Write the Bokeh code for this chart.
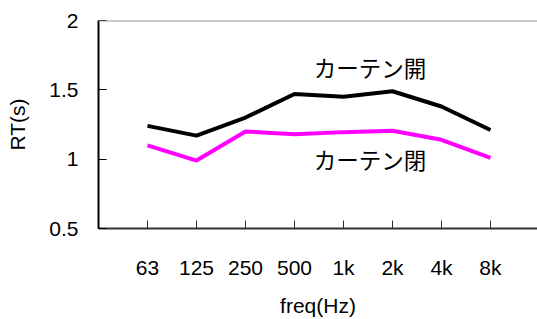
from bokeh.plotting import figure
from bokeh.models import Range1d, FixedTicker, Span, Label
from bokeh.embed import file_html
from bokeh.resources import INLINE

freq_labels = ["63", "125", "250", "500", "1k", "2k", "4k", "8k"]
rt_open = [1.24, 1.17, 1.30, 1.47, 1.45, 1.49, 1.38, 1.21]
rt_closed = [1.10, 0.99, 1.20, 1.18, 1.195, 1.205, 1.14, 1.01]
label_open = "カーテン開"
label_closed = "カーテン閉"

xs = list(range(1, len(freq_labels) + 1))
FONT = "Liberation Sans"
FS = "21px"

p = figure(width=537, height=319, output_backend="svg", toolbar_location=None,
           x_range=Range1d(0, 8.96), y_range=Range1d(0.5, 2.0),
           min_border_left=98, min_border_right=0, min_border_top=20, min_border_bottom=90)
p.outline_line_color = None
p.xgrid.grid_line_color = None
p.ygrid.grid_line_color = None
p.background_fill_color = "white"
p.border_fill_color = "white"

p.add_layout(Span(location=2.0, dimension="width", line_color="#999999", line_width=2))

p.line(xs, rt_open, line_color="black", line_width=4)
p.line(xs, rt_closed, line_color="#FF00FF", line_width=4)

p.add_layout(Label(x=5.54, y=1.663, text=label_open, text_align="center", text_baseline="middle",
                   text_font="Noto Sans CJK JP", text_font_size="22.5px", text_color="black"))
p.add_layout(Label(x=5.54, y=1.0, text=label_closed, text_align="center", text_baseline="middle",
                   text_font="Noto Sans CJK JP", text_font_size="22.5px", text_color="black"))

xa = p.xaxis[0]
xa.ticker = FixedTicker(ticks=xs)
xa.major_label_overrides = {x: l for x, l in zip(xs, freq_labels)}
xa.axis_label = "freq(Hz)"
xa.axis_line_color = "#333333"
xa.axis_line_width = 2
xa.major_tick_in = 8
xa.major_tick_out = 0
xa.major_tick_line_color = "#333333"
xa.minor_tick_line_color = None
xa.major_label_standoff = 27
xa.axis_label_standoff = 12
xa.major_label_text_font = FONT
xa.major_label_text_font_size = FS
xa.major_label_text_color = "black"
xa.axis_label_text_font = FONT
xa.axis_label_text_font_size = FS
xa.axis_label_text_font_style = "normal"
xa.axis_label_text_color = "black"

ya = p.yaxis[0]
ya.ticker = FixedTicker(ticks=[0.5, 1.0, 1.5, 2.0])
ya.major_label_overrides = {0.5: "0.5", 1.0: "1", 1.5: "1.5", 2.0: "2"}
ya.axis_label = "RT(s)"
ya.axis_line_color = "black"
ya.axis_line_width = 2
ya.major_tick_in = 8
ya.major_tick_out = 0
ya.major_tick_line_color = "black"
ya.minor_tick_line_color = None
ya.major_label_standoff = 20
ya.axis_label_standoff = 17
ya.major_label_text_font = FONT
ya.major_label_text_font_size = FS
ya.major_label_text_color = "black"
ya.axis_label_text_font = FONT
ya.axis_label_text_font_size = FS
ya.axis_label_text_font_style = "normal"
ya.axis_label_text_color = "black"

open("out.html", "w").write(file_html(p, INLINE))
